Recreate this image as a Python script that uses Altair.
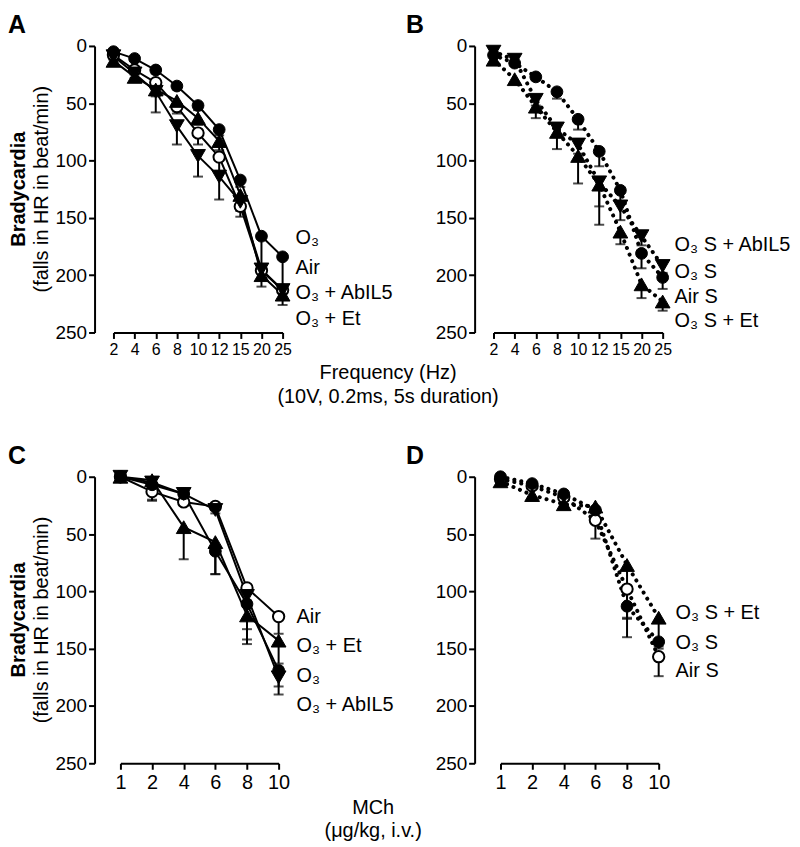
import altair as alt
import pandas as pd

FONT = "Liberation Sans, Arial, Helvetica, sans-serif"
NARROW = "'Liberation Sans Narrow', 'Arial Narrow', Liberation Sans, sans-serif"

YTICKS = [0, 50, 100, 150, 200, 250]

# ---------------- Panel A : frequency response, solid lines ----------------
FREQ = ["2", "4", "6", "8", "10", "12", "15", "20", "25"]
A_NAMES = ["Air", "O₃ + AbIL5", "O₃ + Et", "O₃"]
A_AIR = [8, 21, 32, 53, 76, 97, 140, 196, 213]
A_AIR_SEM = [3, 4, 5, 6, 10, 12, 9, 8, 8]
A_ABIL5 = [9, 24, 40, 70, 96, 114, 136, 195, 213]
A_ABIL5_SEM = [3, 4, 18, 16, 18, 20, 8, 8, 8]
A_ET = [13, 27, 38, 48, 63, 83, 130, 200, 217]
A_ET_SEM = [3, 4, 6, 5, 6, 8, 12, 10, 9]
A_O3 = [5, 11, 21, 35, 52, 73, 117, 166, 184]
A_O3_SEM = [2, 2, 3, 3, 4, 5, 6, 28, 28]

# ---------------- Panel B : frequency response, dotted lines ----------------
B_NAMES = ["O₃ S + AbIL5", "O₃ S + Et", "O₃ S"]
B_ABIL5 = [5, 12, 47, 72, 86, 119, 140, 166, 192]
B_ABIL5_SEM = [2, 3, 5, 6, 8, 21, 12, 8, 6]
B_ET = [12, 29, 53, 75, 96, 121, 162, 208, 223]
B_ET_SEM = [3, 3, 10, 15, 24, 35, 11, 12, 8]
B_O3S = [8, 15, 27, 40, 64, 92, 126, 181, 202]
B_O3S_SEM = [2, 2, 3, 6, 9, 13, 10, 13, 10]

# ---------------- Panel C : MCh dose response, solid lines ----------------
DOSE = ["1", "2", "4", "6", "8", "10"]
C_NAMES = ["Air", "O₃ + Et", "O₃ + AbIL5", "O₃"]
C_AIR = [0, 13, 22, 26, 97, 122]
C_AIR_SEM = [1, 8, 3, 3, 36, 15]
C_ET = [0, 3, 44, 57, 121, 143]
C_ET_SEM = [1, 2, 28, 28, 25, 20]
C_ABIL5 = [0, 5, 15, 29, 104, 175]
C_ABIL5_SEM = [1, 3, 2, 3, 4, 8]
C_O3 = [0, 7, 15, 65, 111, 169]
C_O3_SEM = [1, 13, 3, 20, 31, 21]

# ---------------- Panel D : MCh dose response, dotted lines ----------------
D_NAMES = ["Air S", "O₃ S + Et", "O₃ S"]
D_AIRS = [2, 8, 18, 38, 98, 157]
D_AIRS_SEM = [1, 2, 2, 16, 25, 17]
D_ETS = [4, 16, 24, 26, 77, 123]
D_ETS_SEM = [1, 2, 2, 3, 63, 27]
D_O3S = [0, 6, 15, 29, 113, 144]
D_O3S_SEM = [1, 2, 2, 3, 11, 4]

SHAPE = {"open": "circle", "circle": "circle", "up": "triangle-up", "down": "triangle-down"}
FILL = {"open": "white", "circle": "black", "up": "black", "down": "black"}
SIZE = {"open": 130, "circle": 140, "up": 220, "down": 220}


def text_layer(txt, x, y, size=20, weight="normal", align="left", baseline="middle", angle=0):
    kw = dict(font=FONT, fontSize=size, fontWeight=weight, align=align,
              baseline=baseline, color="black")
    if angle:
        kw["angle"] = angle
    return alt.Chart(pd.DataFrame({"t": [txt]})).mark_text(**kw).encode(
        text="t:N", x=alt.value(x), y=alt.value(y))


def panel(xvals, xrange, names, means, sems, kinds, dotted, xfont, xfs, extra):
    rows = []
    for name, m, s in zip(names, means, sems):
        for i, (xv, mv, sv) in enumerate(zip(xvals, m, s)):
            rows.append(dict(x=xv, idx=i, series=name, mean=mv, hi=mv + sv))
    df = pd.DataFrame(rows)

    xaxis = alt.Axis(title=None, labelAngle=0, labelFont=xfont, labelFontSize=xfs,
                     labelColor="black", domainColor="black", domainWidth=2,
                     tickColor="black", tickWidth=2, tickSize=6, labelPadding=3,
                     grid=False)
    yaxis = alt.Axis(title=None, values=YTICKS, offset=12, labelFont=FONT,
                     labelFontSize=19, labelColor="black", domainColor="black",
                     domainWidth=2, tickColor="black", tickWidth=2, tickSize=6,
                     labelPadding=2, grid=False)
    xenc = alt.X("x:O", sort=xvals,
                 scale=alt.Scale(type="point", range=xrange, padding=0), axis=xaxis)

    def yq(field):
        return alt.Y(field, scale=alt.Scale(domain=[0, 250], reverse=True, nice=False,
                                            zero=False), axis=yaxis)

    base = alt.Chart(df)
    if dotted:
        line = base.mark_line(color="black", strokeWidth=4, strokeDash=[0.1, 7],
                              strokeCap="round")
    else:
        line = base.mark_line(color="black", strokeWidth=2)
    line = line.encode(x=xenc, y=yq("mean:Q"), detail="series:N", order="idx:Q")
    rules = base.mark_rule(color="black", strokeWidth=2).encode(
        x=xenc, y=yq("mean:Q"), y2="hi:Q")
    caps = base.mark_tick(color="black", thickness=2, size=10).encode(
        x=xenc, y=yq("hi:Q"))
    pts = []
    for name, k in zip(names, kinds):
        pts.append(
            base.transform_filter(alt.datum.series == name)
            .mark_point(shape=SHAPE[k], size=SIZE[k], fill=FILL[k], filled=True,
                        stroke="black", strokeWidth=2 if k == "open" else 1,
                        opacity=1, fillOpacity=1)
            .encode(x=xenc, y=yq("mean:Q"))
        )
    return alt.layer(line, rules, caps, *pts, *extra).properties(width=188, height=288)


def ytitles():
    return [
        text_layer("Bradycardia", -88, 144, size=20, weight="bold", align="center", angle=270),
        text_layer("(falls in HR in beat/min)", -65, 144, size=20, align="center", angle=270),
    ]


pA = panel(
    FREQ, [7, 177], A_NAMES,
    [A_AIR, A_ABIL5, A_ET, A_O3], [A_AIR_SEM, A_ABIL5_SEM, A_ET_SEM, A_O3_SEM],
    ["open", "down", "up", "circle"], False, NARROW, 16,
    [text_layer("A", -99, -33, size=25, weight="bold", baseline="top"),
     *ytitles(),
     text_layer("O₃", 190, 193), text_layer("Air", 190, 223),
     text_layer("O₃ + AbIL5", 190, 248), text_layer("O₃ + Et", 190, 274),
     text_layer("Frequency (Hz)", 283, 329, size=20, align="center"),
     text_layer("(10V, 0.2ms, 5s duration)", 283, 353, size=20, align="center")],
)

pB = panel(
    FREQ, [7, 177], B_NAMES,
    [B_ABIL5, B_ET, B_O3S], [B_ABIL5_SEM, B_ET_SEM, B_O3S_SEM],
    ["down", "up", "circle"], True, NARROW, 16,
    [text_layer("B", -81, -33, size=25, weight="bold", baseline="top"),
     text_layer("O₃ S + AbIL5", 189, 200), text_layer("O₃ S", 189, 227),
     text_layer("Air S", 189, 252), text_layer("O₃ S + Et", 189, 276)],
)

pC = panel(
    DOSE, [14, 173], C_NAMES,
    [C_AIR, C_ET, C_ABIL5, C_O3], [C_AIR_SEM, C_ET_SEM, C_ABIL5_SEM, C_O3_SEM],
    ["open", "up", "down", "circle"], False, FONT, 20,
    [text_layer("C", -99, -33, size=25, weight="bold", baseline="top"),
     *ytitles(),
     text_layer("Air", 191, 141), text_layer("O₃ + Et", 191, 170),
     text_layer("O₃", 191, 200), text_layer("O₃ + AbIL5", 191, 229),
     text_layer("MCh", 268, 333, size=20, align="center"),
     text_layer("(μg/kg, i.v.)", 268, 356, size=20, align="center")],
)

pD = panel(
    DOSE, [14, 173], D_NAMES,
    [D_AIRS, D_ETS, D_O3S], [D_AIRS_SEM, D_ETS_SEM, D_O3S_SEM],
    ["open", "up", "circle"], True, FONT, 20,
    [text_layer("D", -81, -33, size=25, weight="bold", baseline="top"),
     text_layer("O₃ S + Et", 190, 137), text_layer("O₃ S", 190, 167),
     text_layer("Air S", 190, 195)],
)

chart = alt.concat(
    pA, pB, pC, pD, columns=2,
    spacing={"row": 145, "column": 194}, bounds="flush",
).properties(
    padding={"left": 0, "top": 3, "right": 0, "bottom": 0}
).configure_view(stroke=None)

chart.save("out.html", embed_options={"renderer": "svg", "actions": False})
